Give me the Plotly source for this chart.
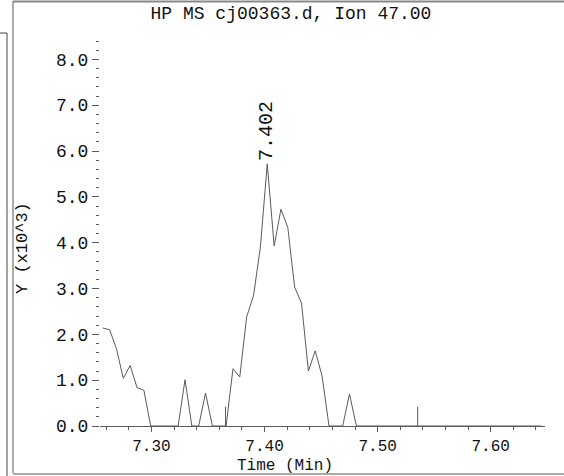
import plotly.graph_objects as go

# Retention time (min) of each scan
times = [7.2569, 7.2630, 7.2690, 7.2751, 7.2812, 7.2872, 7.2933, 7.2993,
         7.3054, 7.3115, 7.3175, 7.3236, 7.3297, 7.3357, 7.3418, 7.3478,
         7.3539, 7.3600, 7.3660, 7.3721, 7.3781, 7.3842, 7.3903, 7.3963,
         7.4024, 7.4085, 7.4145, 7.4206, 7.4266, 7.4327, 7.4388, 7.4448,
         7.4509, 7.4570, 7.4630, 7.4691, 7.4751, 7.4812, 7.4873, 7.4933,
         7.4994, 7.5054, 7.5115, 7.5176, 7.5236, 7.5297, 7.5357, 7.5418,
         7.5479, 7.5539, 7.5600, 7.5660, 7.5721, 7.5782, 7.5842, 7.5903,
         7.5963, 7.6024, 7.6085, 7.6145, 7.6206, 7.6267, 7.6327, 7.6388,
         7.6448]
# Abundance (x10^3)
abund = [2.14, 2.10, 1.69, 1.04, 1.32, 0.84, 0.78, 0.0,
         0.0, 0.0, 0.0, 0.0, 1.01, 0.0, 0.0, 0.72,
         0.0, 0.0, 0.0, 1.25, 1.07, 2.38, 2.85, 3.90,
         5.72, 3.93, 4.73, 4.33, 3.03, 2.68, 1.20, 1.64,
         1.09, 0.0, 0.0, 0.0, 0.70, 0.0, 0.0, 0.0,
         0.0, 0.0, 0.0, 0.0, 0.0, 0.0, 0.0, 0.0,
         0.0, 0.0, 0.0, 0.0, 0.0, 0.0, 0.0, 0.0,
         0.0, 0.0, 0.0, 0.0, 0.0, 0.0, 0.0, 0.0,
         0.0]
# vertical marker ticks
marker_t = [7.3655, 7.5354]
marker_h = [0.42, 0.42]

peak_t = 7.4024
peak_label = "7.402"
title = "HP MS cj00363.d, Ion 47.00"
x_title = "Time (Min)"
y_title = "Y (x10^3)"
x_ticks = [7.30, 7.40, 7.50, 7.60]
x_ticklabels = ["7.30", "7.40", "7.50", "7.60"]
y_ticks = [0, 1, 2, 3, 4, 5, 6, 7, 8]
y_ticklabels = ["0.0", "1.0", "2.0", "3.0", "4.0", "5.0", "6.0", "7.0", "8.0"]

FONT = "Liberation Mono"
LINE = "#5a5a5a"
TXT = "#111111"

W, H = 564, 476
L, R, T, B = 100, 19, 41, 50
pw, ph = W - L - R, H - T - B


def px(xp):
    return (xp - L) / pw


def py(yp):
    return (H - B - yp) / ph


fig = go.Figure()
fig.add_trace(go.Scatter(x=times, y=abund, mode="lines",
                         line=dict(color=LINE, width=1), hoverinfo="skip"))
mx, my = [], []
for t, h in zip(marker_t, marker_h):
    mx += [t, t, None]
    my += [0, h, None]
fig.add_trace(go.Scatter(x=mx, y=my, mode="lines",
                         line=dict(color=LINE, width=1), hoverinfo="skip"))

fig.add_annotation(x=peak_t, y=6.44, text=peak_label, textangle=-90,
                   showarrow=False, font=dict(family=FONT, size=20, color=TXT),
                   xanchor="center", yanchor="middle")

fig.add_annotation(xref="paper", yref="paper", x=px(285), y=py(466),
                   text=x_title, showarrow=False, xanchor="center", yanchor="middle",
                   font=dict(family=FONT, size=16, color=TXT))
fig.add_annotation(xref="paper", yref="paper", x=px(22), y=py(248),
                   text=y_title, textangle=-90, showarrow=False,
                   xanchor="center", yanchor="middle",
                   font=dict(family=FONT, size=17, color=TXT))

frame = [
    (7, 33, 7, 476, "#444", 1),
    (0, 33, 7, 33, "#444", 1),
    (13, 1, 13, 473, "#aaaaaa", 2),
    (13, 1.5, 564, 1.5, "#888888", 2),
    (13, 474, 564, 474, "#aaaaaa", 2),
]
for x0, y0, x1, y1, c, w in frame:
    fig.add_shape(type="line", xref="paper", yref="paper",
                  x0=px(x0), y0=py(y0), x1=px(x1), y1=py(y1),
                  line=dict(color=c, width=w))

fig.update_layout(
    width=W, height=H,
    margin=dict(l=L, r=R, t=T, b=B, pad=0, autoexpand=False),
    paper_bgcolor="white", plot_bgcolor="white",
    showlegend=False,
    font=dict(family=FONT, size=18, color=TXT),
    title=dict(text=title, x=(291 / W), xanchor="center", y=1 - 13 / H,
               yanchor="middle", font=dict(family=FONT, size=18, color=TXT)),
    xaxis=dict(range=[7.2545, 7.648], showgrid=False, zeroline=False,
               automargin=False,
               showline=True, linecolor=LINE, linewidth=1,
               tickmode="array", tickvals=x_ticks, ticktext=x_ticklabels,
               ticks="outside", ticklen=5, tickcolor=LINE, tickwidth=1,
               minor=dict(dtick=0.02, tick0=7.30, ticks="outside", ticklen=3,
                          tickcolor=LINE, showgrid=False),
               tickfont=dict(family=FONT, size=16, color=TXT)),
    yaxis=dict(range=[0, 8.4], showgrid=False, zeroline=False,
               automargin=False,
               showline=False,
               tickmode="array", tickvals=y_ticks, ticktext=y_ticklabels,
               ticks="outside", ticklen=7, tickcolor=LINE, tickwidth=1,
               minor=dict(dtick=0.2, tick0=0, ticks="outside", ticklen=3,
                          tickcolor=LINE, showgrid=False),
               tickfont=dict(family=FONT, size=18, color=TXT)),
)

fig.write_html("out.html")
